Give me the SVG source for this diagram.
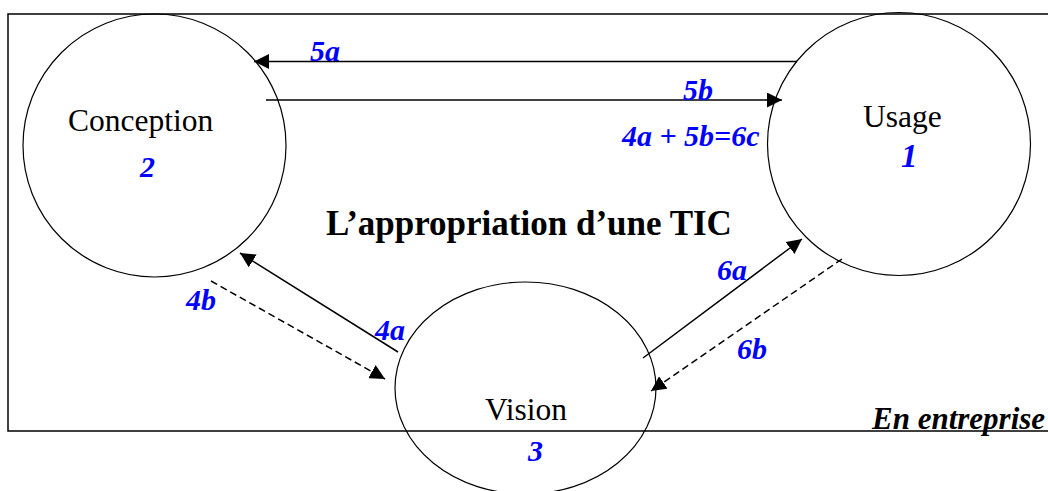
<svg xmlns="http://www.w3.org/2000/svg" width="1048" height="491" viewBox="0 0 1048 491">
<style>
.node{fill:none;stroke:#000;stroke-width:1.2}
.frame{fill:none;stroke:#000;stroke-width:1.5}
.name{font-family:"Liberation Serif",serif;font-size:31.5px;fill:#000}
.num{font-family:"Liberation Serif",serif;font-size:30px;font-weight:bold;font-style:italic;fill:#0000FF}
.title{font-family:"Liberation Serif",serif;font-size:35px;font-weight:bold;fill:#000}
.corner{font-family:"Liberation Serif",serif;font-size:31px;font-weight:bold;font-style:italic;fill:#000}
.arrow{fill:none;stroke:#000;stroke-width:1.5;marker-end:url(#ah)}
.dash{stroke-dasharray:7 4}
</style>
<defs>
<marker id="ah" markerUnits="userSpaceOnUse" markerWidth="15" markerHeight="15" refX="15" refY="7.5" orient="auto" viewBox="0 0 15 15">
<path d="M0,0 L15,7.5 L0,15 Z" fill="#000"/>
</marker>
</defs>
<rect class="frame" x="8" y="14" width="1045" height="417"/>
<text class="title" x="326" y="235">L’appropriation d’une TIC</text>
<text class="corner" x="872" y="429">En entreprise</text>
<g id="conception">
<circle class="node" cx="154.5" cy="145.5" r="131.5"/>
<text class="name" x="68" y="131">Conception</text>
<text class="num" x="140" y="177">2</text>
</g>
<g id="usage">
<circle class="node" cx="899" cy="144" r="131.5"/>
<text class="name" x="863" y="127">Usage</text>
<text class="num" x="901" y="167" style="font-size:33px">1</text>
</g>
<g id="vision">
<ellipse class="node" cx="525.5" cy="388" rx="130.5" ry="106"/>
<text class="name" x="485" y="420">Vision</text>
<text class="num" x="528" y="461">3</text>
</g>
<g id="connectors">
<line class="arrow" x1="797" y1="61.5" x2="254" y2="61.5"/>
<line class="arrow" x1="266" y1="100" x2="782" y2="100"/>
<line class="arrow" x1="398" y1="352" x2="240" y2="253"/>
<line class="arrow dash" x1="211" y1="281" x2="385" y2="379"/>
<line class="arrow" x1="643" y1="358" x2="802" y2="239"/>
<line class="arrow dash" x1="842" y1="259" x2="651" y2="391"/>
<text class="num" x="310" y="61">5a</text>
<text class="num" x="683" y="100">5b</text>
<text class="num" x="622" y="146">4a + 5b=6c</text>
<text class="num" x="186" y="310">4b</text>
<text class="num" x="375" y="340">4a</text>
<text class="num" x="717" y="280">6a</text>
<text class="num" x="737" y="359">6b</text>
</g>
</svg>
